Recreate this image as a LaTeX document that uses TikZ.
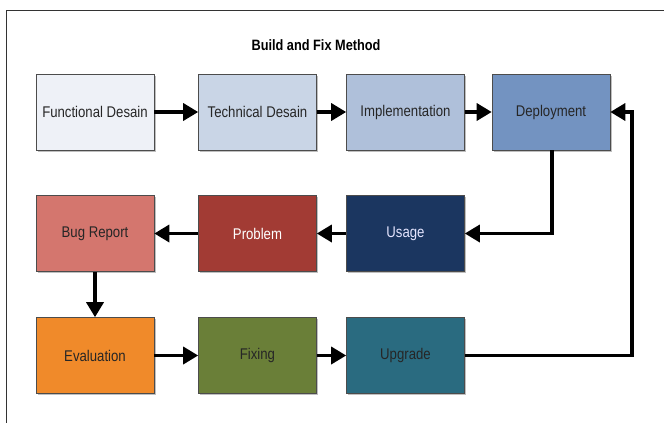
\documentclass[tikz,border=0pt]{standalone}
\usepackage{fontspec}
\setmainfont{Liberation Sans}[FakeStretch=0.85]
\usetikzlibrary{arrows.meta,shadows}
\definecolor{cFunc}{HTML}{EEF1F7}
\definecolor{cTech}{HTML}{C9D5E6}
\definecolor{cImpl}{HTML}{AFC0DA}
\definecolor{cDepl}{HTML}{7393C1}
\definecolor{cBug}{HTML}{D4766E}
\definecolor{cProb}{HTML}{A23B34}
\definecolor{cUsage}{HTML}{1B3660}
\definecolor{cEval}{HTML}{F08A2A}
\definecolor{cFix}{HTML}{6A7F38}
\definecolor{cUpg}{HTML}{2A6B80}
\definecolor{cText}{HTML}{262626}
\begin{document}
\begin{tikzpicture}[x=1pt,y=-1pt,
  box/.style={draw=black!70,line width=0.6pt,minimum width=118pt,minimum height=76pt,
    inner sep=0pt,font=\fontsize{15.5}{17}\selectfont,text=cText,
    drop shadow={shadow xshift=1.5pt,shadow yshift=-1.5pt,opacity=0.25,fill=black}},
  flow/.style={line width=3.4pt,-{Triangle[length=15pt,width=17pt]}}]
\useasboundingbox (0,0) rectangle (664,423);
\fill[white] (0,0) rectangle (664,423);
\draw[line width=1pt,black!80] (664,10) -- (6,10) -- (6,423);
\node[font=\bfseries\fontsize{15}{17}\selectfont] (title) at (316,45) {Build and Fix Method};
% row 1
\node[box,fill=cFunc] (func) at (95,112) {Functional Desain};
\node[box,fill=cTech] (tech) at (257.5,112) {Technical Desain};
\node[box,fill=cImpl] (impl) at (405.5,112) {Implementation};
\node[box,fill=cDepl] (depl) at (551,112) {Deployment};
% row 2
\node[box,fill=cBug] (bug) at (95,233.5) {Bug Report};
\node[box,fill=cProb,text=white] (prob) at (257.5,233.5) {Problem};
\node[box,fill=cUsage,text=white!90!blue] (usage) at (405.5,233.5) {Usage};
% row 3
\node[box,fill=cEval] (eval) at (95,355.5) {Evaluation};
\node[box,fill=cFix] (fix) at (257.5,355.5) {Fixing};
\node[box,fill=cUpg] (upg) at (405.5,355.5) {Upgrade};
\coordinate (c1) at (552,233.5);
\coordinate (c2) at (632,355.5);
\coordinate (c3) at (632,112);
% arrows
\draw[flow] (func) -- (tech);
\draw[flow] (tech) -- (impl);
\draw[flow] (impl) -- (depl);
\draw[flow] (depl.south -| c1) -- (c1) -- (usage.east);
\draw[flow] (usage) -- (prob);
\draw[flow] (prob) -- (bug);
\draw[flow] (bug) -- (eval);
\draw[flow] (eval) -- (fix);
\draw[flow] (fix) -- (upg);
\draw[flow] (upg.east) -- (c2) -- (c3) -- (depl.east);
\end{tikzpicture}
\end{document}
